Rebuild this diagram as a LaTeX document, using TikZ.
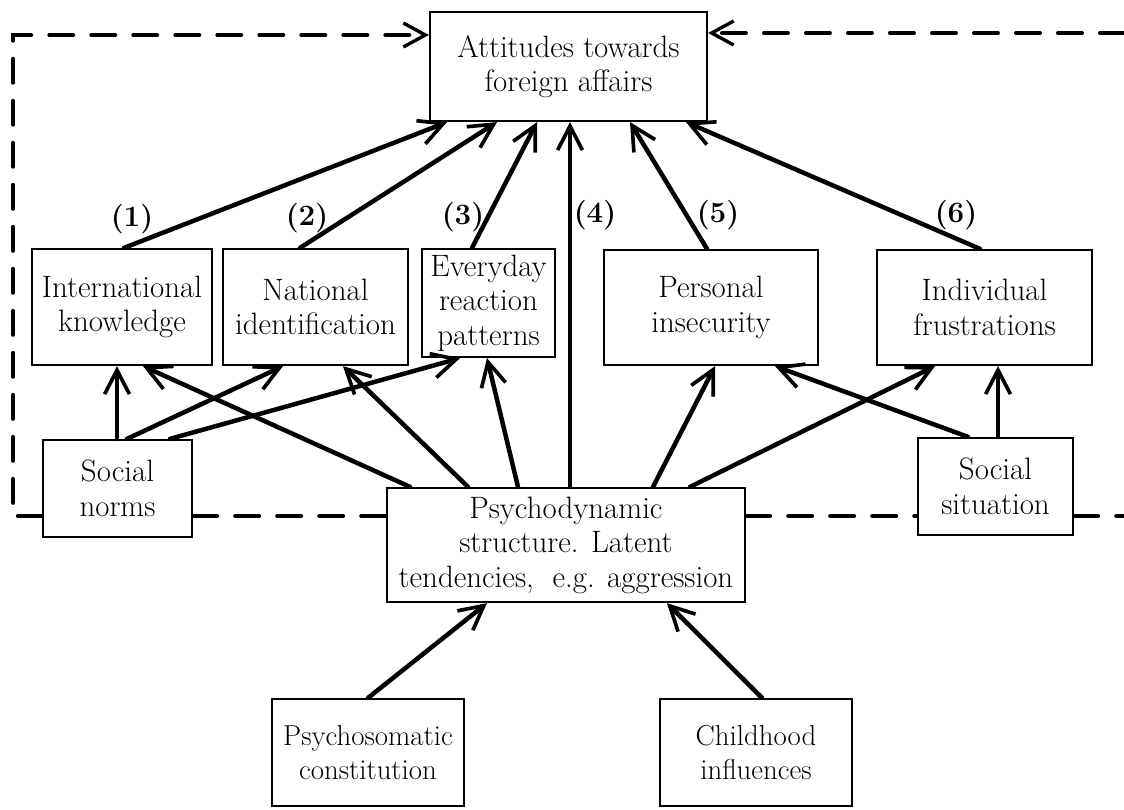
\documentclass[tikz,border=0pt]{standalone}
\usepackage{fontspec}
\usetikzlibrary{arrows.meta}
\begin{document}
\begin{tikzpicture}[x=0.025cm,y=-0.025cm,
  box/.style={draw, line width=1.6pt, inner sep=0pt, align=center, font=\fontsize{22}{24.5}\selectfont},
  smallbox/.style={box, font=\fontsize{20.5}{24.5}\selectfont},
  span/.style n args={4}{minimum width={(#3-#1)*0.025cm}, minimum height={(#4-#2)*0.025cm}, at={({(#1+#3)/2},{(#2+#4)/2})}},
  num/.style={inner sep=0pt, font=\fontsize{21}{24}\selectfont\bfseries},
  arr/.style={line width=3.2pt, line cap=round, -{Straight Barb[length=0.6cm,width=0.62cm,line width=2.6pt]}},
  dashline/.style={line width=2.8pt, line cap=round, dash pattern=on 0.6cm off 0.45cm},
  dasharr/.style={dashline, -{Straight Barb[length=0.55cm,width=0.6cm,line width=2.4pt]}}]
\useasboundingbox (0,0) rectangle (1124,809);
% boxes
\node[box, span={430}{12}{707}{121}] (top) {Attitudes towards\\foreign affairs};
\node[box, span={32}{249}{212}{365}] (intl) {International\\knowledge};
\node[box, span={223}{249}{408}{365}] (natl) {National\\identification};
\node[box, span={422}{249}{555}{357}] (every) {Everyday\\reaction\\patterns};
\node[box, span={604}{250}{818}{365}] (pers) {Personal\\insecurity};
\node[box, span={877}{250}{1092}{365}] (indiv) {Individual\\frustrations};
\node[box, span={43}{440}{192}{537}] (snorms) {Social\\norms};
\node[box, span={387}{488}{745}{602}] (psych) {Psychodynamic\\structure. Latent\\tendencies,\ \ e.g. aggression};
\node[box, span={918}{438}{1073}{535}] (ssit) {Social\\situation};
\node[smallbox, span={272}{699}{464}{806}] (psom) {Psychosomatic\\constitution};
\node[smallbox, span={660}{699}{852}{806}] (child) {Childhood\\influences};
% number labels
\node[num] (l1) at (132,219) {(1)};
\node[num] (l2) at (307,218) {(2)};
\node[num] (l3) at (463,217) {(3)};
\node[num] (l4) at (595,215) {(4)};
\node[num] (l5) at (718,215) {(5)};
\node[num] (l6) at (956,215) {(6)};
% dashed feedback lines
\coordinate (tl) at (13,35);
\coordinate (bl) at (13,516);
\coordinate (tr) at (1124,33);
\coordinate (br) at (1124,516);
\draw[dasharr] (snorms.west |- bl) -- (bl) -- (tl) -- (tl -| top.west);
\draw[dasharr] (tr) -- (tr -| top.east);
\draw[dashline] (snorms.east |- bl) -- (psych.west |- bl);
\draw[dashline] (psych.east |- bl) -- (ssit.west |- bl);
\draw[dashline] (ssit.east |- br) -- (br);
% arrows to attitudes
\draw[arr] (intl.north -| 124,0) -- (top.south -| 447,0);
\draw[arr] (natl.north -| 300,0) -- (top.south -| 497,0);
\draw[arr] (every.north -| 472,0) -- (top.south -| 537,0);
\draw[arr] (psych.north -| 570,0) -- (top.south -| 570,0);
\draw[arr] (pers.north -| 707,0) -- (top.south -| 630,0);
\draw[arr] (indiv.north -| 980,0) -- (top.south -| 686,0);
% arrows into middle row
\draw[arr] (snorms.north -| 117,0) -- (intl.south -| 117,0);
\draw[arr] (snorms.north -| 127,0) -- (natl.south -| 283,0);
\draw[arr] (snorms.north -| 170,0) -- (every.south -| 460,0);
\draw[arr] (psych.north -| 410,0) -- (intl.south -| 143,0);
\draw[arr] (psych.north -| 468,0) -- (natl.south -| 343,0);
\draw[arr] (psych.north -| 518,0) -- (every.south -| 487,0);
\draw[arr] (psych.north -| 653,0) -- (pers.south -| 715,0);
\draw[arr] (psych.north -| 690,0) -- (indiv.south -| 935,0);
\draw[arr] (ssit.north -| 968,0) -- (pers.south -| 775,0);
\draw[arr] (ssit.north -| 998,0) -- (indiv.south -| 998,0);
% arrows into psychodynamic structure
\draw[arr] (psom.north -| 368,0) -- (psych.south -| 487,0);
\draw[arr] (child.north -| 762,0) -- (psych.south -| 667,0);
\end{tikzpicture}
\end{document}
